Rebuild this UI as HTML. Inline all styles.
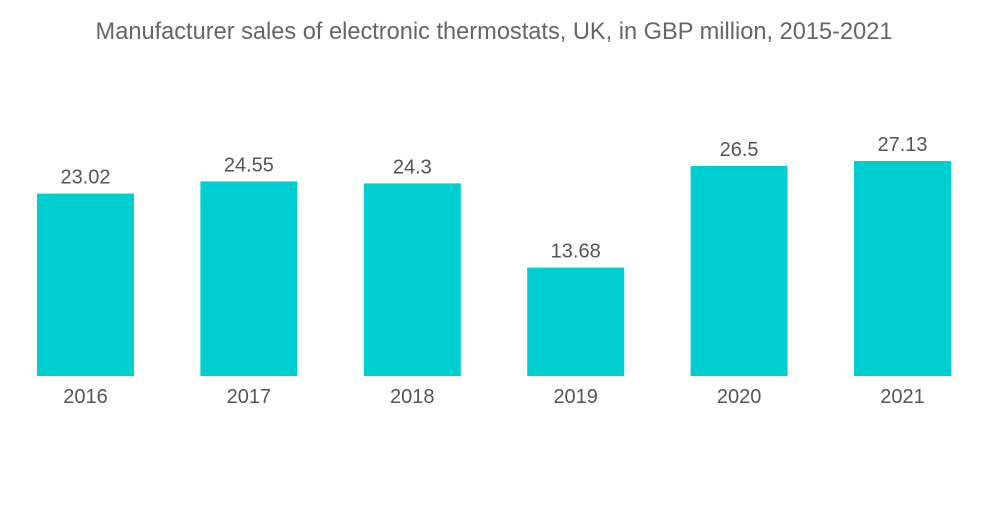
<!DOCTYPE html>
<html><head><meta charset="utf-8"><style>
body{margin:0;background:#fff;width:1000px;height:504px;overflow:hidden;font-family:"Liberation Sans",sans-serif}
</style></head><body>
<svg width="1000" height="504" xmlns="http://www.w3.org/2000/svg">
<text x="494" y="39" text-anchor="middle" font-size="23.6" fill="#666">Manufacturer sales of electronic thermostats, UK, in GBP million, 2015-2021</text>
<g id="bars"></g>
</svg>
<script>
const categories=["2016","2017","2018","2019","2020","2021"];
const values=[23.02,24.55,24.3,13.68,26.5,27.13];
const labels=["23.02","24.55","24.3","13.68","26.5","27.13"];
const baseY=376, pxPerUnit=7.925, x0=37, pitch=163.4, bw=97;
const xPos=i=>x0+i*pitch;
const yPos=v=>baseY-v*pxPerUnit;
const g=document.getElementById('bars');
const ns="http://www.w3.org/2000/svg";
categories.forEach((c,i)=>{
  const r=document.createElementNS(ns,'rect');
  r.setAttribute('x',xPos(i));r.setAttribute('y',yPos(values[i]));
  r.setAttribute('width',bw);r.setAttribute('height',baseY-yPos(values[i]));
  r.setAttribute('fill','#00CED1');
  
  
  g.appendChild(r);
  const t=document.createElementNS(ns,'text');
  t.setAttribute('x',xPos(i)+bw/2);t.setAttribute('y',yPos(values[i])-10);
  t.setAttribute('text-anchor','middle');t.setAttribute('font-size','20');t.setAttribute('fill','#555');
  t.textContent=labels[i];
  
  
  g.appendChild(t);
  const l=document.createElementNS(ns,'text');
  l.setAttribute('x',xPos(i)+bw/2);l.setAttribute('y',403);
  l.setAttribute('text-anchor','middle');l.setAttribute('font-size','20');l.setAttribute('fill','#555');
  l.textContent=c;
  
  
  g.appendChild(l);
});
</script>
</body></html>
